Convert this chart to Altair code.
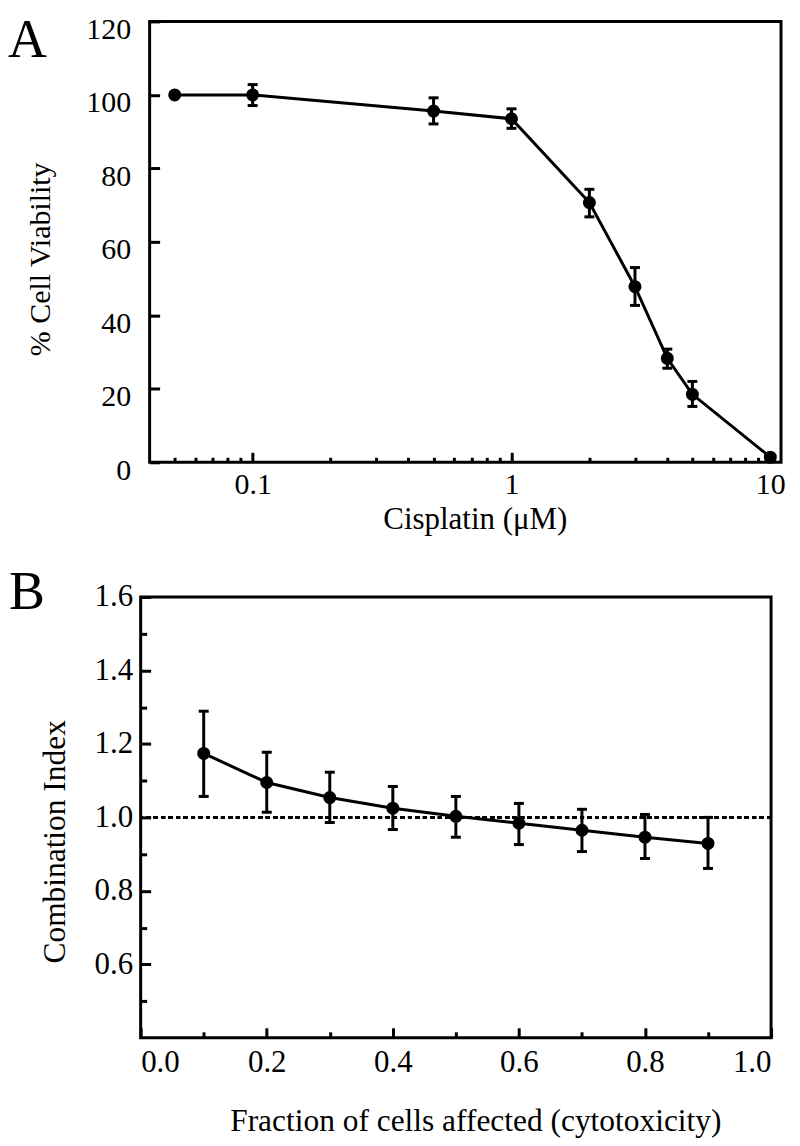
import altair as alt
import pandas as pd

# ---------- Panel A data ----------
conc = [0.05, 0.1, 0.5, 1, 2, 3, 4, 5, 10]
viability = [100, 100, 95.6, 93.5, 70.7, 47.8, 28.3, 18.5, 1.4]
viab_lo = [100, 97.1, 92.1, 90.9, 66.8, 42.7, 25.6, 15.2, 1.4]
viab_hi = [100, 102.8, 99.2, 96.2, 74.3, 53.0, 30.8, 22.0, 1.4]

a_major = [0.1, 1, 10]
a_minor = [0.05, 0.06, 0.07, 0.08, 0.09, 0.2, 0.3, 0.4, 0.5, 0.6, 0.7, 0.8, 0.9,
           2, 3, 4, 5, 6, 7, 8, 9]
a_yticks = [0, 20, 40, 60, 80, 100, 120]

# ---------- Panel B data ----------
fa = [0.1, 0.2, 0.3, 0.4, 0.5, 0.6, 0.7, 0.8, 0.9]
ci = [1.174, 1.095, 1.054, 1.025, 1.003, 0.984, 0.965, 0.946, 0.929]
ci_lo = [1.057, 1.014, 0.986, 0.967, 0.946, 0.926, 0.907, 0.888, 0.861]
ci_hi = [1.289, 1.177, 1.123, 1.084, 1.057, 1.038, 1.022, 1.008, 1.000]

b_xmajor = [0.0, 0.2, 0.4, 0.6, 0.8, 1.0]
b_xminor = [0.1, 0.3, 0.5, 0.7, 0.9]
b_ymajor = [0.6, 0.8, 1.0, 1.2, 1.4, 1.6]
b_yminor = [0.5, 0.7, 0.9, 1.1, 1.3, 1.5]

FONT = "Liberation Serif"
WA, HA = 633, 442
WB, HB = 632, 442

dfA = pd.DataFrame({"conc": conc, "v": viability, "lo": viab_lo, "hi": viab_hi})
dfB = pd.DataFrame({"fa": fa, "ci": ci, "lo": ci_lo, "hi": ci_hi})


def label_axis(values, title, lfs, tfs, fmt=None, pad=4, **kw):
    d = dict(values=values, title=title, ticks=False, domain=False, grid=False,
             labelPadding=pad, labelFont=FONT, labelFontSize=lfs,
             labelColor="black", titleFont=FONT, titleFontSize=tfs,
             titleFontWeight="normal", titleColor="black")
    if fmt:
        d["format"] = fmt
    d.update(kw)
    return alt.Axis(**d)


def tick_axis(values, orient, offset, size):
    return alt.Axis(values=values, orient=orient, offset=offset, labels=False,
                    domain=False, grid=False, title=None, ticks=True,
                    tickSize=size, tickWidth=3, tickColor="black")


def letter(text, dx, dy):
    return alt.Title(text, orient="none", anchor="start", frame="group",
                     dx=dx, dy=dy, offset=0, baseline="alphabetic",
                     fontSize=54, font=FONT, fontWeight="normal", color="black")


def cap(df, xfield, yfield, xs, ys):
    return alt.Chart(df).mark_tick(color="black", orient="horizontal", size=10,
                                   thickness=3, opacity=1).encode(
        x=alt.X(xfield, scale=xs, axis=None),
        y=alt.Y(yfield, scale=ys, axis=None),
    )


# ---------- Panel A ----------
xsA = alt.Scale(type="log", domain=[0.04, 11])
ysA = alt.Scale(domain=[0, 120])

lineA = alt.Chart(dfA).mark_line(color="black", strokeWidth=3).encode(
    x=alt.X("conc:Q", scale=xsA,
            axis=label_axis(a_major, "Cisplatin (\u03bcM)", 30, 31, fmt="~g",
                            pad=7.5, titlePadding=4.5, titleX=326)),
    y=alt.Y("v:Q", scale=ysA,
            axis=label_axis(a_yticks, "% Cell Viability", 30, 30, pad=19,
                            labelBaseline="middle", labelOffset=8,
                            titleX=-100, titleY=238, titleBaseline="alphabetic",
                            titleAlign="center", titleAngle=-90)),
)
barsA = alt.Chart(dfA).mark_rule(color="black", strokeWidth=3).encode(
    x=alt.X("conc:Q", scale=xsA, axis=tick_axis(a_minor, "top", -HA, 5)),
    y=alt.Y("lo:Q", scale=ysA, axis=None),
    y2="hi:Q",
)
ptsA = alt.Chart(dfA).mark_circle(color="black", size=170, opacity=1).encode(
    x=alt.X("conc:Q", scale=xsA, axis=tick_axis(a_major, "top", -HA, 10)),
    y=alt.Y("v:Q", scale=ysA, axis=tick_axis(a_yticks, "right", -WA, 10)),
)

panelA = alt.layer(
    lineA, barsA,
    cap(dfA, "conc:Q", "lo:Q", xsA, ysA),
    cap(dfA, "conc:Q", "hi:Q", xsA, ysA),
    ptsA,
).resolve_axis(
    x="independent", y="independent"
).properties(width=WA, height=HA, title=letter("A", -142, 36))

# ---------- Panel B ----------
xsB = alt.Scale(domain=[0, 1.0])
ysB = alt.Scale(domain=[0.4, 1.6])

refB = alt.Chart(dfB).mark_rule(color="black", strokeWidth=3,
                                strokeDash=[4, 3.5]).encode(
    y=alt.datum(1.0, scale=ysB, axis=None),
)
lineB = alt.Chart(dfB).mark_line(color="black", strokeWidth=3).encode(
    x=alt.X("fa:Q", scale=xsB,
            axis=label_axis(b_xmajor, "Fraction of cells affected (cytotoxicity)",
                            31, 31.5, fmt=".1f", pad=10, titlePadding=28,
                            titleX=335.5)),
    y=alt.Y("ci:Q", scale=ysB,
            axis=label_axis(b_ymajor, "Combination Index", 31, 31.5, fmt=".1f",
                            pad=8, labelBaseline="middle",
                            titleX=-76, titleY=245, titleBaseline="alphabetic",
                            titleAlign="center", titleAngle=-90)),
)
barsB = alt.Chart(dfB).mark_rule(color="black", strokeWidth=3).encode(
    x=alt.X("fa:Q", scale=xsB, axis=tick_axis(b_xminor, "top", -HB, 6)),
    y=alt.Y("lo:Q", scale=ysB, axis=tick_axis(b_yminor, "right", -WB, 6)),
    y2="hi:Q",
)
ptsB = alt.Chart(dfB).mark_circle(color="black", size=170, opacity=1).encode(
    x=alt.X("fa:Q", scale=xsB, axis=tick_axis(b_xmajor, "top", -HB, 10)),
    y=alt.Y("ci:Q", scale=ysB, axis=tick_axis(b_ymajor, "right", -WB, 10)),
)

panelB = alt.layer(
    refB, lineB, barsB,
    cap(dfB, "fa:Q", "lo:Q", xsB, ysB),
    cap(dfB, "fa:Q", "hi:Q", xsB, ysB),
    ptsB,
).resolve_axis(
    x="independent", y="independent"
).properties(width=WB, height=HB, title=letter("B", -132, 12))

# invisible 1px spacer so panel A's frame sits 10px right of panel B's
spacer = alt.Chart(pd.DataFrame({"s": [0]})).mark_point(opacity=0).encode(
    x=alt.value(0), y=alt.value(0)
).properties(width=1, height=1,
             view=alt.ViewBackground(stroke="transparent", strokeWidth=0))

rowA = alt.hconcat(spacer, panelA, spacing=-138)

chart = alt.vconcat(rowA, panelB, spacing=28).properties(
    padding={"left": -2, "top": 3, "right": 5, "bottom": 0}
).configure_view(
    stroke="black", strokeWidth=3
).configure_axis(
    grid=False
)

chart.save("out.html", embed_options={"renderer": "svg", "actions": False})
